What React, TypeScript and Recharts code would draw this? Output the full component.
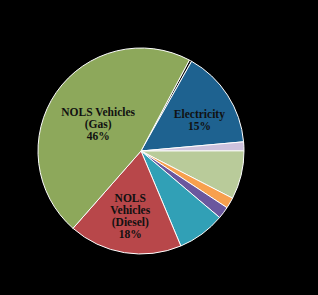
import React from "react";
import { PieChart, Pie, Cell } from "recharts";

const categories = [
  "Other (black)",
  "Electricity",
  "Lavender",
  "Light Green",
  "Orange",
  "Purple",
  "Teal",
  "NOLS Vehicles (Diesel)",
  "NOLS Vehicles (Gas)",
];
const values = [0.4, 15.4, 1.4, 7.6, 1.7, 1.9, 7.5, 17.8, 46.3];
const colors = [
  "#111111",
  "#1E6290",
  "#CDC2DD",
  "#B9CB9A",
  "#F7A04E",
  "#6A579E",
  "#31A0B6",
  "#B8474A",
  "#8DA85B",
];
const labelLines: (string[] | null)[] = [
  null,
  ["Electricity", "15%"],
  null,
  null,
  null,
  null,
  null,
  ["NOLS", "Vehicles", "(Diesel)", "18%"],
  ["NOLS Vehicles", "(Gas)", "46%"],
];
const labelRadiusFrac = [0, 0.64, 0, 0, 0, 0, 0, 0.645, 0.5];
const labelShift: [number, number][] = [
  [0, 0],
  [3, 4.5],
  [0, 0],
  [0, 0],
  [0, 0],
  [0, 0],
  [0, 0],
  [0, -0.5],
  [-0.5, 2.5],
];

const data = categories.map((name, i) => ({ name, value: values[i] }));

const RAD = Math.PI / 180;

const renderLabel = (props: any) => {
  const { cx, cy, midAngle, outerRadius, index } = props;
  const lines = labelLines[index];
  if (!lines) return null;
  const r = outerRadius * labelRadiusFrac[index];
  const x = cx + r * Math.cos(-midAngle * RAD) + labelShift[index][0];
  const y = cy + r * Math.sin(-midAngle * RAD) + labelShift[index][1];
  const lh = 12;
  const startY = y - ((lines.length - 1) * lh) / 2;
  return (
    <text
      key={"l" + index}
      x={x}
      y={startY}
      textAnchor="middle"
      dominantBaseline="central"
      fill="#111"
      fontFamily="'Liberation Serif', 'DejaVu Serif', serif"
      fontWeight="bold"
      fontSize={11.5}
    >
      {lines.map((t, i) => (
        <tspan key={i} x={x} y={startY + i * lh} dominantBaseline="central">
          {t}
        </tspan>
      ))}
    </text>
  );
};

export default function App() {
  return (
    <div
      style={{
        position: "fixed",
        left: 0,
        top: 0,
        width: 318,
        height: 295,
        background: "#000",
      }}
    >
      <PieChart width={318} height={295} margin={{ top: 0, right: 0, bottom: 0, left: 0 }}>
        <Pie
          data={data}
          dataKey="value"
          nameKey="name"
          cx={141}
          cy={151}
          outerRadius={103}
          startAngle={62}
          endAngle={-298}
          stroke="#ffffff"
          strokeWidth={1}
          label={renderLabel}
          labelLine={false}
          isAnimationActive={false}
        >
          {data.map((d, i) => (
            <Cell key={d.name} fill={colors[i]} />
          ))}
        </Pie>
      </PieChart>
    </div>
  );
}
